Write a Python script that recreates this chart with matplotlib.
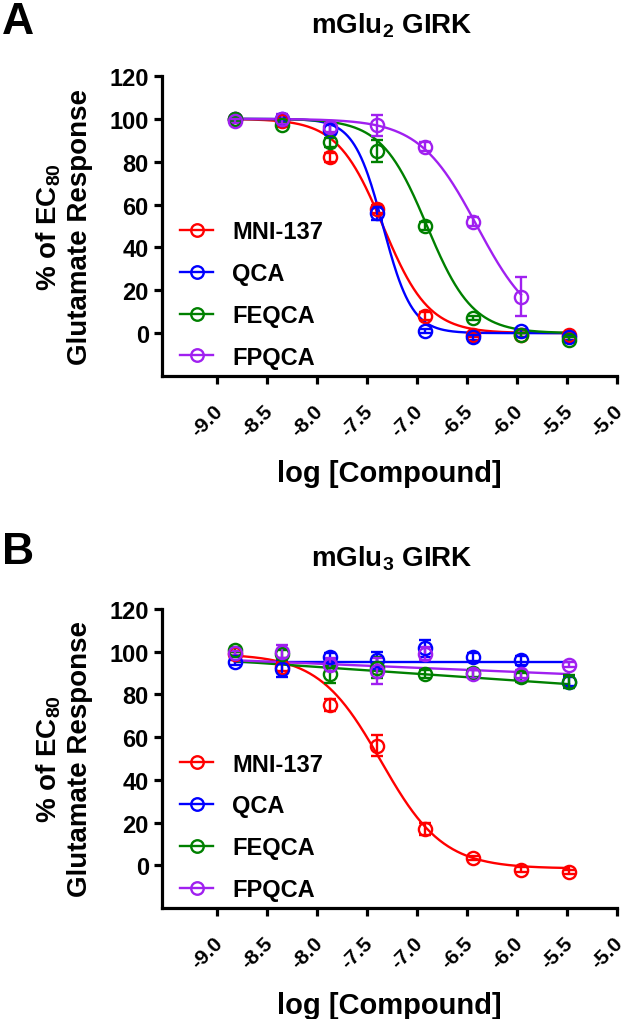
import numpy as np
import matplotlib
matplotlib.use("Agg")
import matplotlib.pyplot as plt
import matplotlib.transforms as mtrans
from matplotlib.lines import Line2D

plt.rcParams['font.family'] = ['Liberation Sans', 'DejaVu Sans']
plt.rcParams['font.weight'] = 'bold'
plt.rcParams['axes.unicode_minus'] = False
plt.rcParams['mathtext.fontset'] = 'custom'
plt.rcParams['mathtext.rm'] = 'Liberation Sans:bold'
plt.rcParams['mathtext.it'] = 'Liberation Sans:bold'
plt.rcParams['mathtext.bf'] = 'Liberation Sans:bold'
plt.rcParams['mathtext.default'] = 'rm'

# ---- Daten ----
compounds = ["MNI-137", "QCA", "FEQCA", "FPQCA"]
colors = ["#ff0000", "#0000ff", "#008000", "#a020f0"]
log_conc = [-8.82, -8.35, -7.87, -7.40, -6.92, -6.44, -5.96, -5.48]

# Panel A: mGlu2 GIRK (Mittelwerte, SEM)
a_mni = [100, 99, 82, 58, 8, -1, -1, -1]
a_mni_err = [1, 1, 2, 2, 2, 1, 1, 1]
a_qca = [100, 100, 95, 56, 1, -2, 1, -2]
a_qca_err = [1, 1, 2, 3, 1, 1, 1, 1]
a_feqca = [100, 97, 89, 85, 50, 7, -1, -3]
a_feqca_err = [1, 1, 2, 5, 2, 1, 1, 1]
a_fpqca = [99, 100, 96, 97, 87, 52, 17]
a_fpqca_err = [1, 2.5, 2, 5, 2, 2, 9]

# Fit-Parameter (top, bottom, logIC50, Hill) + Bereich
a_fit_mni = [100, 0, -7.34, 1.9]
a_fit_qca = [100, 0, -7.34, 3.0]
a_fit_feqca = [100, 0, -6.90, 1.9]
a_fit_fpqca = [100, 0, -6.40, 1.5]
a_fit_range = [(-8.82, -5.48), (-8.82, -5.48), (-8.82, -5.48), (-8.82, -5.96)]

# Panel B: mGlu3 GIRK
b_mni = [99, 93, 75, 56, 17, 3.5, -2, -3]
b_mni_err = [1, 2, 3, 5, 3, 1, 1, 1]
b_qca = [95, 92, 97.5, 96, 101.5, 97.5, 96, 86]
b_qca_err = [1, 4, 2, 4, 4, 2, 2, 2]
b_feqca = [101, 99, 89.5, 92.5, 89.5, 90, 88, 86]
b_feqca_err = [1, 2, 4, 5, 2, 2, 2, 3]
b_fpqca = [99.5, 100, 94, 91, 99, 89.5, 89.5, 94]
b_fpqca_err = [1, 3, 3, 6, 3, 2, 2, 1]

b_fit_mni = [99, -1.5, -7.36, 1.4]
# fast flache Fits: Werte am Anfang / Ende
b_line_qca = [95.2, 95.2]
b_line_feqca = [95.5, 84.8]
b_line_fpqca = [96.0, 89.5]


def logistic(x, top, bottom, logic50, hill):
    return bottom + (top - bottom) / (1 + 10 ** (hill * (x - logic50)))


def style_axes(ax, fig):
    ax.set_xlim(-9.55, -5.0)
    ax.set_ylim(-20, 120)
    ax.set_xticks(np.arange(-9.0, -4.99, 0.5))
    ax.set_xticklabels([f"{v:.1f}" for v in np.arange(-9.0, -4.99, 0.5)])
    ax.set_yticks(np.arange(0, 121, 20))
    for s in ["top", "right"]:
        ax.spines[s].set_visible(False)
    for s in ["left", "bottom"]:
        ax.spines[s].set_linewidth(2.3)
    ax.tick_params(width=2.3, length=6, labelsize=17)
    ax.tick_params(axis="x", labelsize=15, pad=12)
    shift = mtrans.ScaledTranslation(-3 / 72, 0, fig.dpi_scale_trans)
    for lab in ax.get_xticklabels():
        lab.set_rotation(45)
        lab.set_ha("right")
        lab.set_rotation_mode("anchor")
        lab.set_fontweight("bold")
        lab.set_transform(lab.get_transform() + shift)
    for lab in ax.get_yticklabels():
        lab.set_fontweight("bold")


def draw_points(ax, y, err, c):
    n = len(y)
    ax.errorbar(log_conc[:n], y, yerr=err, fmt="o", color=c, mfc="none",
                mec=c, mew=1.7, ms=9.5, elinewidth=1.7, capsize=4, capthick=1.7,
                zorder=3)


fig = plt.figure(figsize=(6.25, 10.2), dpi=100)
axA = fig.add_axes([0.2592, 0.6304, 0.7280, 0.2941])
axB = fig.add_axes([0.2592, 0.1088, 0.7280, 0.2932])

# ---- Panel A ----
a_data = [(a_mni, a_mni_err, a_fit_mni), (a_qca, a_qca_err, a_fit_qca),
          (a_feqca, a_feqca_err, a_fit_feqca), (a_fpqca, a_fpqca_err, a_fit_fpqca)]
for (y, e, p), c, rng in zip(a_data, colors, a_fit_range):
    xx = np.linspace(rng[0], rng[1], 300)
    axA.plot(xx, logistic(xx, *p), color=c, lw=1.7, zorder=2)
    draw_points(axA, y, e, c)

# ---- Panel B ----
xx = np.linspace(log_conc[0], log_conc[-1], 300)
axB.plot(xx, logistic(xx, *b_fit_mni), color=colors[0], lw=1.7, zorder=2)
for line, c in zip([b_line_qca, b_line_feqca, b_line_fpqca], colors[1:]):
    axB.plot([log_conc[0], log_conc[-1]], line, color=c, lw=1.7, zorder=2)
for (y, e), c in zip([(b_mni, b_mni_err), (b_qca, b_qca_err),
                      (b_feqca, b_feqca_err), (b_fpqca, b_fpqca_err)], colors):
    draw_points(axB, y, e, c)

handles = [Line2D([], [], color=c, marker="o", mfc="none", mec=c, mew=1.7,
                  ms=9, lw=1.7) for c in colors]

for ax, title, letter in [(axA, "mGlu$_{2}$ GIRK", "A"), (axB, "mGlu$_{3}$ GIRK", "B")]:
    style_axes(ax, fig)
    ax.legend(handles, compounds, loc="upper left", bbox_to_anchor=(0.04, 0.52),
              frameon=False, handlelength=1.4, handletextpad=0.8,
              labelspacing=0.8, borderpad=0, borderaxespad=0,
              prop={"weight": "bold", "size": 17})
    ax.text(0.505, 1.17, title, transform=ax.transAxes, ha="center", va="center",
            fontsize=20, fontweight="bold")
    ax.set_xlabel("log [Compound]", fontsize=21, fontweight="bold", labelpad=14)
    ax.text(-0.215, 0.5, "% of EC$_{80}$\nGlutamate Response", transform=ax.transAxes,
            rotation=90, ha="center", va="center", fontsize=20, fontweight="bold",
            linespacing=1.2)

fig.text(0.003, 0.998, "A", fontsize=32, fontweight="bold", va="top", ha="left")
fig.text(0.003, 0.478, "B", fontsize=32, fontweight="bold", va="top", ha="left")

fig.savefig("out.png", dpi=100)
